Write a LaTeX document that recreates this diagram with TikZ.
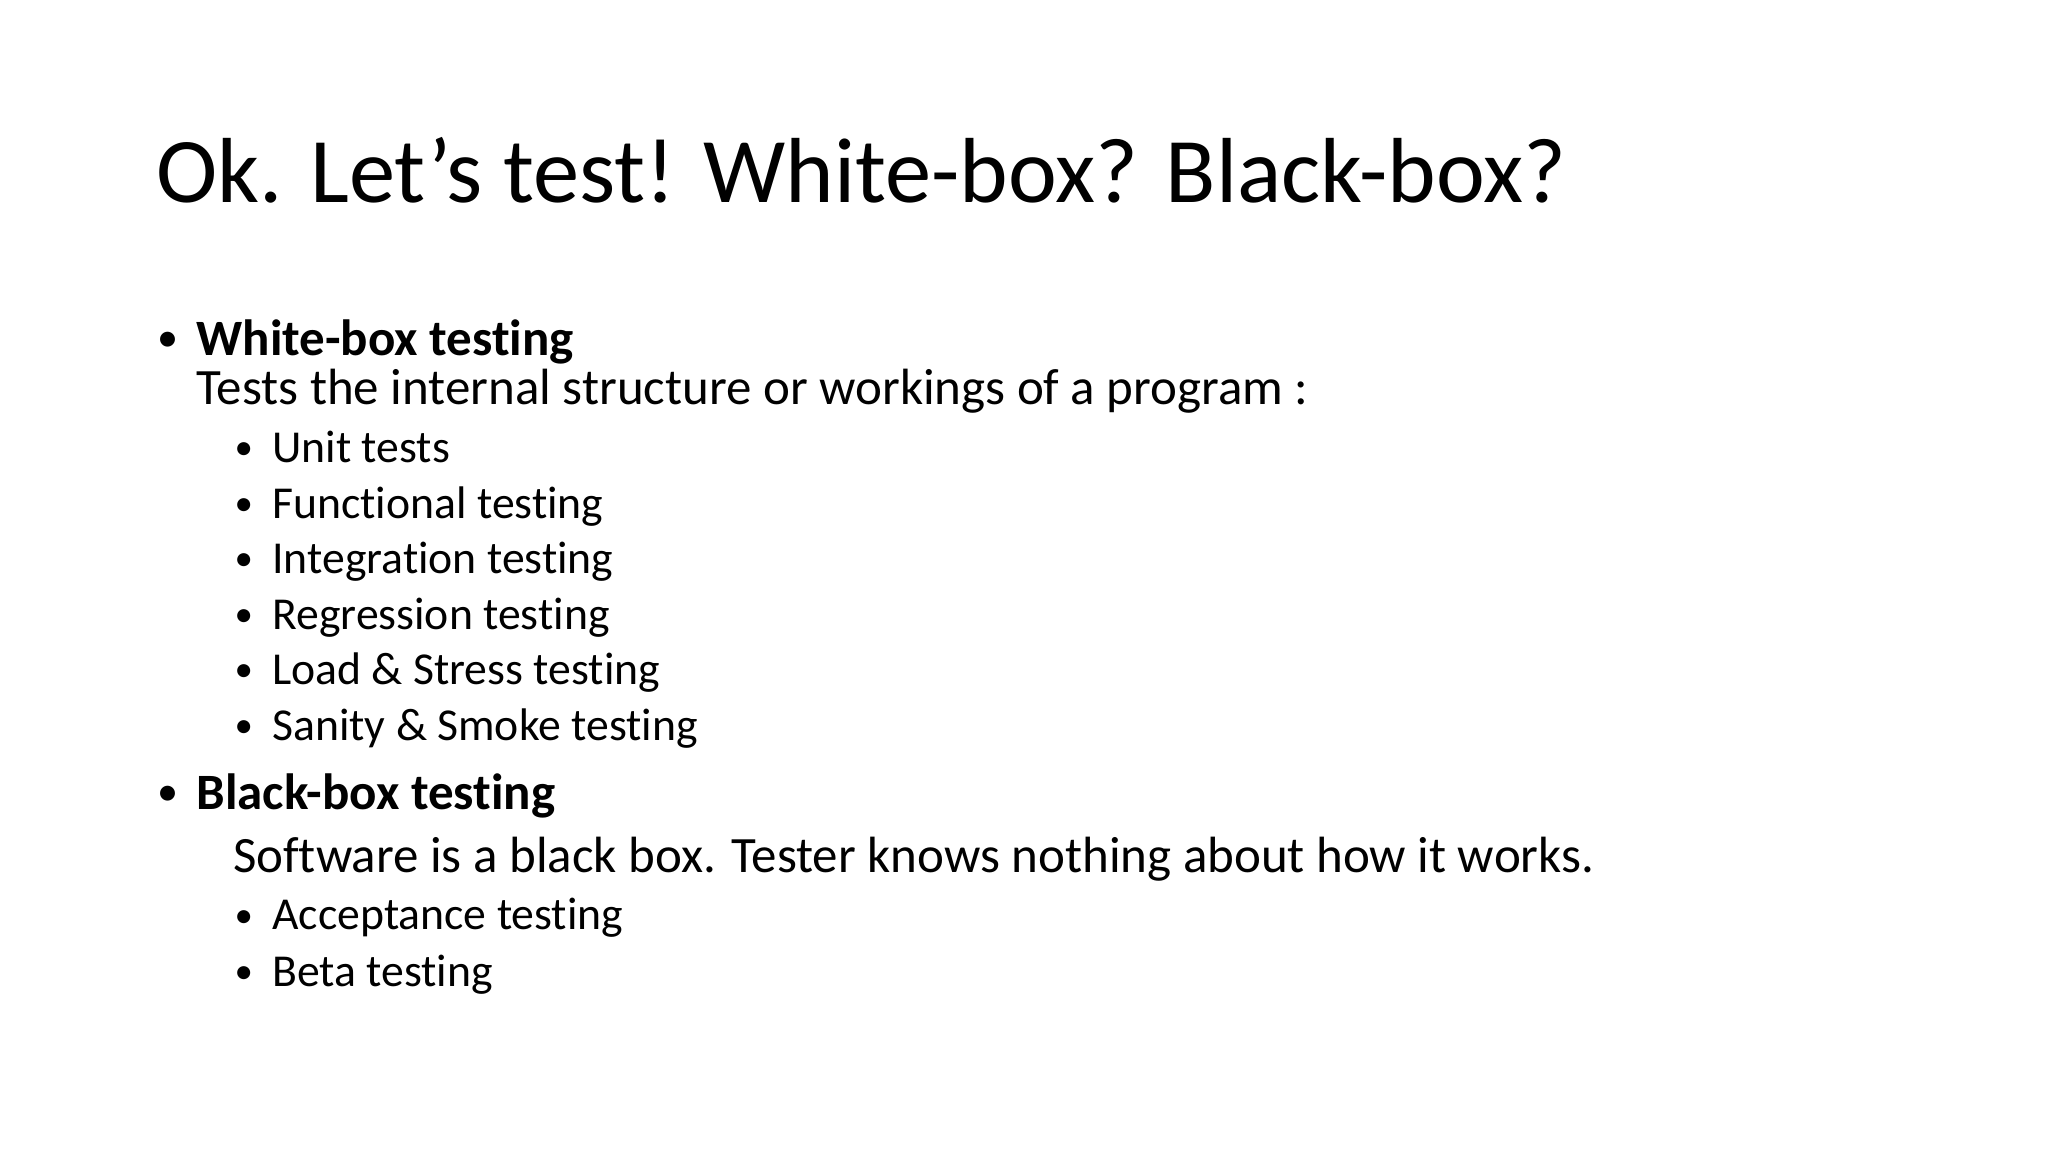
\documentclass[tikz,border=0pt]{standalone}
\usepackage{fontspec}
\setmainfont[RawFeature=-liga]{Carlito}
\begin{document}
\begin{tikzpicture}[x=0.013061cm,y=-0.013061cm,
  t/.style={anchor=base west,inner sep=0pt,font=\fontsize{14.5}{16}\selectfont},
  s/.style={anchor=base west,inner sep=0pt,font=\fontsize{13}{14}\selectfont},
  b1/.style={anchor=base west,inner sep=0pt,font=\fontsize{12}{16}\selectfont},
  b2/.style={anchor=base west,inner sep=0pt,font=\fontsize{10.5}{14}\selectfont}]
\useasboundingbox (0,0) rectangle (1568,882);
\node[anchor=base west,inner sep=0pt,font=\fontsize{26.3}{36}\selectfont] (title) at (119,155) {Ok. Let’s test! White-box? Black-box?};
\node[b1] (bw) at (120,269) {•};
\node[t] (w) at (150,272) {\bfseries White-box testing};
\node[t] (wd) at (150,310) {Tests the internal structure or workings of a program :};
\foreach \y/\txt [count=\i] in {354/Unit tests,397/Functional testing,439/Integration testing,482/Regression testing,524/Load \& Stress testing,567/Sanity \& Smoke testing}{
  \node[b2] (wb\i) at (179,\y-2) {•};
  \node[s] (wi\i) at (208,\y) {\txt};
}
\node[b1] (bb) at (120,617) {•};
\node[t] (b) at (150,620) {\bfseries Black-box testing};
\node[t] (bd) at (178,668) {Software is a black box. Tester knows nothing about how it works.};
\foreach \y/\txt [count=\i] in {712/Acceptance testing,755/Beta testing}{
  \node[b2] (bbl\i) at (179,\y-2) {•};
  \node[s] (bi\i) at (208,\y) {\txt};
}
\end{tikzpicture}
\end{document}
